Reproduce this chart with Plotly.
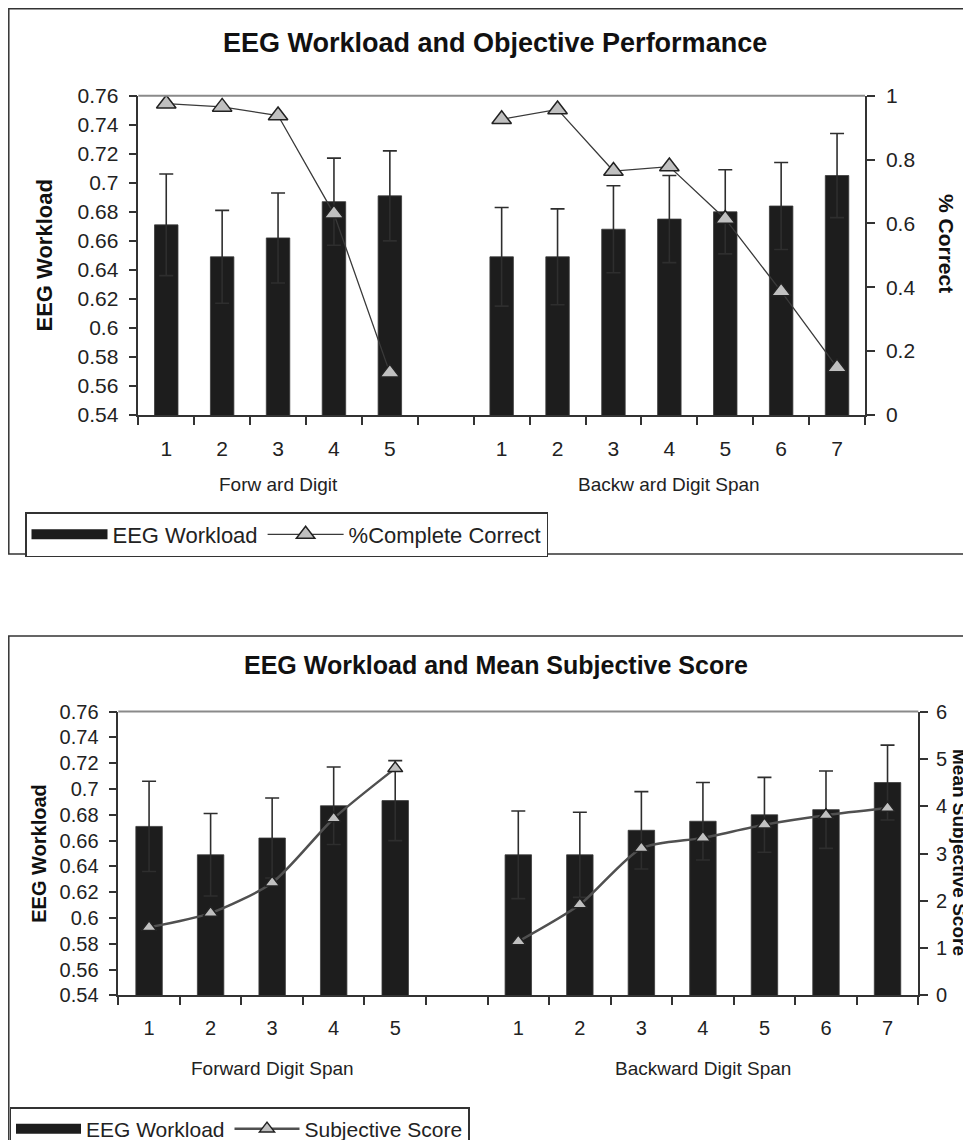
import plotly.graph_objects as go

# ---------------- data ----------------
fwd_labels = ["1", "2", "3", "4", "5"]
bwd_labels = ["1", "2", "3", "4", "5", "6", "7"]

eeg_fwd = [0.671, 0.649, 0.662, 0.687, 0.691]
eeg_fwd_err = [0.035, 0.032, 0.031, 0.030, 0.031]
eeg_bwd = [0.649, 0.649, 0.668, 0.675, 0.680, 0.684, 0.705]
eeg_bwd_err = [0.034, 0.033, 0.030, 0.030, 0.029, 0.030, 0.029]

pct_fwd = [0.975, 0.965, 0.938, 0.630, 0.132]
pct_bwd = [0.926, 0.957, 0.764, 0.778, 0.614, 0.387, 0.149]

subj_fwd = [1.44, 1.74, 2.38, 3.74, 4.80]
subj_bwd = [1.14, 1.92, 3.11, 3.33, 3.61, 3.81, 3.96]

eeg_ticks = [0.54, 0.56, 0.58, 0.60, 0.62, 0.64, 0.66, 0.68, 0.70, 0.72, 0.74, 0.76]
eeg_ticktext = ["0.54", "0.56", "0.58", "0.6", "0.62", "0.64", "0.66", "0.68", "0.7", "0.72", "0.74", "0.76"]
pct_ticks = [0, 0.2, 0.4, 0.6, 0.8, 1.0]
pct_ticktext = ["0", "0.2", "0.4", "0.6", "0.8", "1"]
subj_ticks = [0, 1, 2, 3, 4, 5, 6]
subj_ticktext = ["0", "1", "2", "3", "4", "5", "6"]

# ---------------- helpers ----------------
W, H = 963, 1132
OFF = 8  # page body margin
FONT = "Liberation Sans, Arial, sans-serif"
AX = "#333333"
BAR = "#1d1d1d"
TRI = "#c0c0c0"

n_f, n_b = len(fwd_labels), len(bwd_labels)
x_f = list(range(n_f))
x_gap = n_f
x_b = [n_f + 1 + i for i in range(n_b)]
n_slots = n_f + 1 + n_b
centers = list(range(n_slots))
tick_text = fwd_labels + [""] + bwd_labels
bounds = [c - 0.5 for c in centers] + [n_slots - 0.5]
x_range = [-0.5, n_slots - 0.5]


def fx(px):
    return (px - OFF) / W


def fy(py):
    return 1 - (py - OFF) / H


fig = go.Figure()


def add_chart(xa, ya, ya2, xov, yov, yov2, box, y2_range, y2_ticks, y2_text,
              line_vals_f, line_vals_b, line_name, legend_id, bar_w,
              tri_size, line_w, line_color, line_shape, fs, title_fs, standoff,
              r_standoff):
    left, right, top, bottom = box
    xd = [fx(left), fx(right)]
    yd = [fy(bottom), fy(top)]
    xs = xa.replace("axis", "")
    ys = ya.replace("axis", "")
    ys2 = ya2.replace("axis", "")

    fig.add_trace(go.Bar(
        x=x_f + x_b, y=eeg_fwd + eeg_bwd, width=bar_w,
        marker=dict(color=BAR, line=dict(color="#3a3a3a", width=0.8)),
        error_y=dict(type="data", array=eeg_fwd_err + eeg_bwd_err,
                     color="#2e2e2e", thickness=1.6, width=7),
        xaxis=xs, yaxis=ys, showlegend=False, name="EEG Workload"))
    # wide legend swatch for the bars (no data)
    fig.add_trace(go.Scatter(
        x=[None], y=[None], mode="lines", name="EEG Workload",
        line=dict(color=BAR, width=11), xaxis=xs, yaxis=ys, legend=legend_id))
    fig.add_trace(go.Scatter(
        x=x_f + [x_gap] + x_b, y=line_vals_f + [None] + line_vals_b,
        mode="lines+markers", name=line_name, connectgaps=False,
        line=dict(color=line_color, width=line_w, shape=line_shape, smoothing=0.7),
        marker=dict(symbol="triangle-up", size=tri_size, color=TRI,
                    line=dict(color="#222222", width=1.5)),
        xaxis=xs, yaxis=ys2, legend=legend_id))

    tickfont = dict(family=FONT, size=fs, color="#222222")
    fig.update_layout(**{
        xa: dict(domain=xd, range=x_range, anchor=ys, showline=True,
                 linecolor=AX, linewidth=1.5, showgrid=False, zeroline=False,
                 tickmode="array", tickvals=centers, ticktext=tick_text,
                 ticks="", ticklabelstandoff=14, tickfont=tickfont,
                 minor=dict(tickmode="array", tickvals=bounds, ticks="outside",
                            ticklen=8, tickcolor=AX, tickwidth=1.5)),
        xov: dict(overlaying=xs, anchor=ys, side="bottom", range=x_range,
                  showline=False, showgrid=False, zeroline=False,
                  tickmode="array", tickvals=bounds, ticks="inside",
                  ticklen=7, tickcolor=AX, tickwidth=1.5, showticklabels=False),
        ya: dict(domain=yd, range=[0.54, 0.76], anchor=xs, showline=True,
                 linecolor=AX, linewidth=1.5, showgrid=False, zeroline=False,
                 tickmode="array", tickvals=eeg_ticks, ticktext=eeg_ticktext,
                 ticks="outside", ticklen=8, tickcolor=AX, tickwidth=1.5,
                 ticklabelstandoff=6, tickfont=tickfont,
                 title=dict(text="<b>EEG Workload</b>", standoff=standoff,
                            font=dict(family=FONT, size=title_fs, color="#111"))),
        yov: dict(overlaying=ys, anchor=xs, side="left", range=[0.54, 0.76],
                  showline=False, showgrid=False, zeroline=False,
                  tickmode="array", tickvals=eeg_ticks, ticks="inside",
                  ticklen=7, tickcolor=AX, tickwidth=1.5, showticklabels=False),
        ya2: dict(overlaying=ys, anchor=xs, side="right", range=y2_range,
                  showline=True, linecolor=AX, linewidth=1.5, showgrid=False,
                  zeroline=False, tickmode="array", tickvals=y2_ticks,
                  ticktext=y2_text, ticks="outside", ticklen=8, tickcolor=AX,
                  tickwidth=1.5, ticklabelstandoff=r_standoff, tickfont=tickfont),
        yov2: dict(overlaying=ys, anchor=xs, side="right", range=y2_range,
                   showline=False, showgrid=False, zeroline=False,
                   tickmode="array", tickvals=y2_ticks, ticks="inside",
                   ticklen=7, tickcolor=AX, tickwidth=1.5, showticklabels=False),
    })
    fig.add_shape(type="line", xref=xs + " domain", yref=ys + " domain",
                  x0=0, x1=1, y0=1, y1=1, line=dict(color="#8a8a8a", width=2))


TOP_BOX = (138.3, 865.0, 95.7, 415.0)
BOT_BOX = (118.3, 918.3, 711.6, 995.4)

add_chart("xaxis", "yaxis", "yaxis2", "xaxis3", "yaxis5", "yaxis6", TOP_BOX,
          [0, 1], pct_ticks, pct_ticktext, pct_fwd, pct_bwd,
          "%Complete Correct", "legend", 0.42, 17, 1.3, "#3a3a3a", "linear",
          21, 22, 19, 7)
add_chart("xaxis2", "yaxis3", "yaxis4", "xaxis4", "yaxis7", "yaxis8", BOT_BOX,
          [0, 6], subj_ticks, subj_ticktext, subj_fwd, subj_bwd,
          "Subjective Score", "legend2", 0.43, 13, 2.5, "#505050", "spline",
          20, 20, 8, 4)

# chart frames
fig.add_shape(type="rect", xref="paper", yref="paper", x0=fx(8.8), x1=1.05,
              y0=fy(554), y1=fy(8.8), line=dict(color="#333", width=1.5))
fig.add_shape(type="rect", xref="paper", yref="paper", x0=fx(8.8), x1=1.05,
              y0=-0.05, y1=fy(636), line=dict(color="#333", width=1.5))

ann = []
ann.append(dict(text="<b>EEG Workload and Objective Performance</b>", x=fx(495),
                y=fy(43), xref="paper", yref="paper", showarrow=False,
                xanchor="center", yanchor="middle",
                font=dict(family=FONT, size=27, color="#111")))
ann.append(dict(text="<b>EEG Workload and Mean Subjective Score</b>", x=fx(496),
                y=fy(665), xref="paper", yref="paper", showarrow=False,
                xanchor="center", yanchor="middle",
                font=dict(family=FONT, size=25, color="#111")))
ann.append(dict(text="Forw ard Digit", x=sum(x_f) / n_f, y=fy(484), xref="x",
                yref="paper", showarrow=False, xanchor="center", yanchor="middle",
                font=dict(family=FONT, size=19, color="#222")))
ann.append(dict(text="Backw ard Digit Span", x=sum(x_b) / n_b, y=fy(484), xref="x",
                yref="paper", showarrow=False, xanchor="center", yanchor="middle",
                font=dict(family=FONT, size=19, color="#222")))
ann.append(dict(text="Forward Digit Span", x=sum(x_f) / n_f, y=fy(1068), xref="x2",
                yref="paper", showarrow=False, xanchor="center", yanchor="middle",
                font=dict(family=FONT, size=19, color="#222")))
ann.append(dict(text="Backward Digit Span", x=sum(x_b) / n_b, y=fy(1068), xref="x2",
                yref="paper", showarrow=False, xanchor="center", yanchor="middle",
                font=dict(family=FONT, size=19, color="#222")))
ann.append(dict(text="<b>% Correct</b>", x=fx(947), y=fy(243), xref="paper",
                yref="paper", showarrow=False, textangle=90,
                xanchor="center", yanchor="middle",
                font=dict(family=FONT, size=21, color="#111")))
ann.append(dict(text="<b>Mean Subjective Score</b>", x=fx(960), y=fy(852),
                xref="paper", yref="paper", showarrow=False, textangle=90,
                xanchor="center", yanchor="middle",
                font=dict(family=FONT, size=19, color="#111")))

fig.update_layout(
    width=W, height=H,
    margin=dict(l=0, r=0, t=0, b=0, autoexpand=False),
    paper_bgcolor="white", plot_bgcolor="white",
    font=dict(family=FONT, color="#222"),
    annotations=ann,
    legend=dict(orientation="h", x=fx(25), y=fy(512), xanchor="left",
                yanchor="top", itemwidth=76, bgcolor="white",
                bordercolor="#333", borderwidth=1.5,
                font=dict(family=FONT, size=22, color="#222")),
    legend2=dict(orientation="h", x=fx(9.5), y=fy(1107), xanchor="left",
                 yanchor="top", itemwidth=65, bgcolor="white",
                 bordercolor="#333", borderwidth=1.5,
                 font=dict(family=FONT, size=21, color="#222")),
)

fig.write_html("out.html")
